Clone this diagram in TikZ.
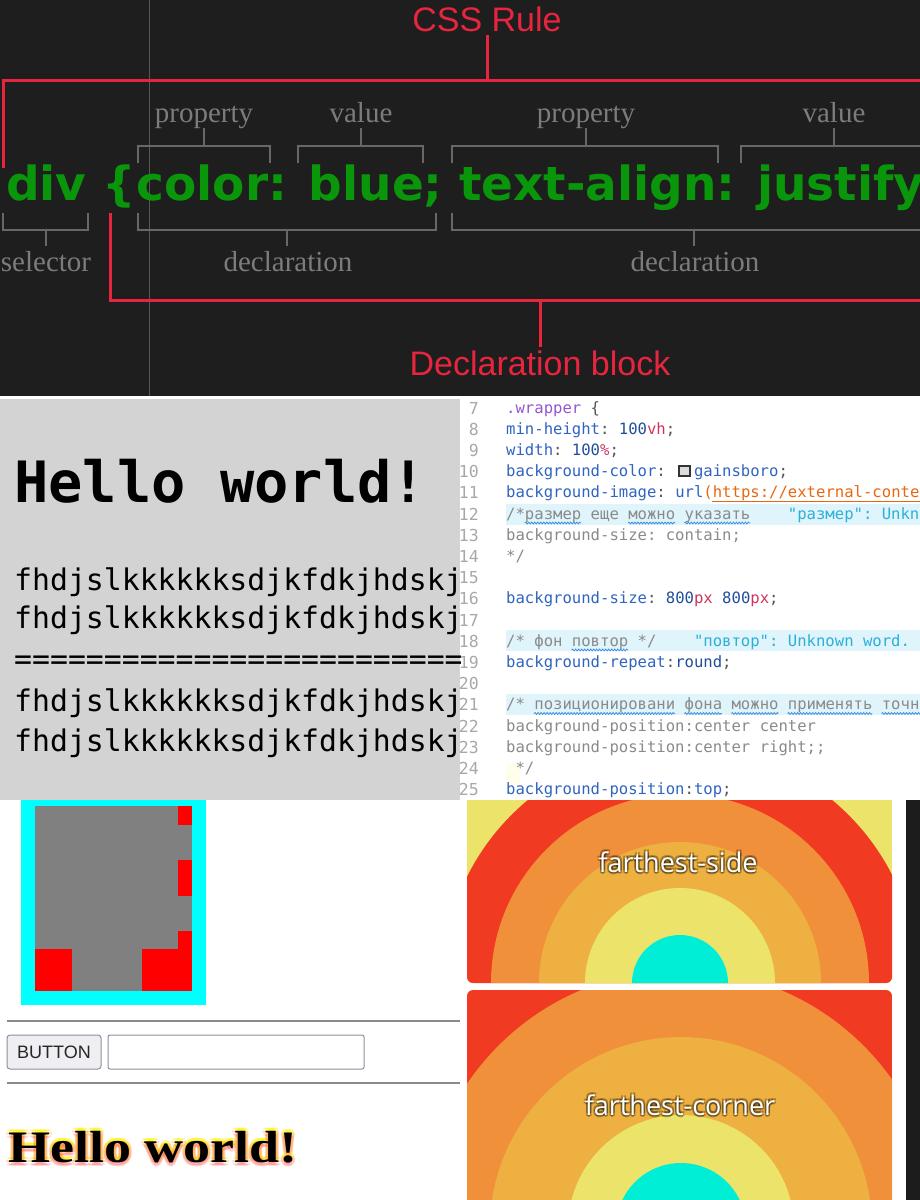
\documentclass[tikz,border=0pt]{standalone}
\usepackage{fontspec}
\setmainfont{Liberation Serif}
\setsansfont{Liberation Sans}
\setmonofont{DejaVu Sans Mono}
\newfontfamily\verdanafont{DejaVu Sans}
\newfontfamily\opensans{Open Sans}
\usepackage{xcolor}
\usepackage{graphicx}
\usepackage{tikz}
\usetikzlibrary{decorations.pathmorphing, positioning}
\definecolor{panelbg}{HTML}{1E1E1E}
\definecolor{rulered}{HTML}{E8253F}
\definecolor{codegreen}{HTML}{0A960A}
\definecolor{labelgray}{HTML}{7C7C7C}
\definecolor{bracketgray}{HTML}{686868}
\definecolor{pagegray}{HTML}{D3D3D3}
\definecolor{propblue}{HTML}{2F64C0}
\definecolor{numblue}{HTML}{1F4E9A}
\definecolor{unitred}{HTML}{D2335C}
\definecolor{selpurple}{HTML}{9456D0}
\definecolor{urlorange}{HTML}{E8670F}
\definecolor{commentgray}{HTML}{8A8A8A}
\definecolor{punctgray}{HTML}{555555}
\definecolor{hintcyan}{HTML}{2CB0DA}
\definecolor{hintbg}{HTML}{DFF4FB}
\definecolor{linenum}{HTML}{A8A8A8}
\definecolor{spellblue}{HTML}{3C8FE0}
\definecolor{boxcyan}{HTML}{00FFFF}
\definecolor{boxgray}{HTML}{808080}
\definecolor{btnface}{HTML}{EFEFF3}
\definecolor{btnedge}{HTML}{8F8F9D}
\definecolor{hrgray}{HTML}{8A8A8A}
\definecolor{ringcyan}{HTML}{00EED6}
\definecolor{ringyellow}{HTML}{ECE46A}
\definecolor{ringlight}{HTML}{EEB040}
\definecolor{ringorange}{HTML}{F0903A}
\definecolor{ringred}{HTML}{F03A22}
\definecolor{stripdark}{HTML}{1C1C1C}
\definecolor{gainsboro}{HTML}{DCDCDC}
\newcommand{\cprop}[1]{\textcolor{propblue}{#1}}
\newcommand{\cnum}[1]{\textcolor{numblue}{#1}}
\newcommand{\cunit}[1]{\textcolor{unitred}{#1}}
\newcommand{\cpun}[1]{\textcolor{punctgray}{#1}}

\begin{document}
\begin{tikzpicture}[x=1pt, y=-1pt,
    redline/.style={rulered, line width=3pt},
    grayline/.style={bracketgray, line width=2pt},
    partlabel/.style={anchor=base, inner sep=0, text=labelgray, font=\fontsize{29}{32}\selectfont},
    redlabel/.style={text=rulered, font=\sffamily\fontsize{34}{38}\selectfont},
    codetext/.style={anchor=base west, inner sep=0, font=\ttfamily\fontsize{15.6}{18}\selectfont},
    linenumber/.style={anchor=base east, inner sep=0, text=linenum, font=\ttfamily\fontsize{16.5}{18}\selectfont},
    spellwave/.style={spellblue, line width=0.8pt, decorate, decoration={snake, amplitude=0.9pt, segment length=3pt}},
    monoline/.style={anchor=base west, inner sep=0, font=\ttfamily\fontsize{29.8}{32}\selectfont},
    ringlabel/.style={inner sep=0, font=\opensans\fontsize{27}{30}\selectfont},
    hellostyle/.style={anchor=base west, inner sep=0, font=\bfseries\fontsize{45}{50}\selectfont}]
  \useasboundingbox (0,0) rectangle (920,1200);

  % CSS rule anatomy
  \fill[panelbg] (0,0) rectangle (920,396);
  \begin{scope}
    \clip (0,0) rectangle (920,396);
    \draw[panelbg!75!white, line width=1pt] (149,0) -- (149,396);
    \node[redlabel] (cssrule) at (487,19) {CSS Rule};
    \draw[redline] (3,168) -- (3,80) -- (930,80);
    \draw[redline] (487,80) -- (cssrule.south);
    \node[anchor=base west, inner sep=0, text=codegreen, font=\verdanafont\bfseries\fontsize{47}{50}\selectfont]
      (rule) at (6,200) {div \{color: blue; text-align: justify};
    \node[partlabel] (prop1) at (204,122) {property};
    \node[partlabel] (val1) at (361,122) {value};
    \node[partlabel] (prop2) at (586,122) {property};
    \node[partlabel] (val2) at (834,122) {value};
    \foreach \l/\r/\m in {138/270/204, 298/423/361, 452/718/586, 741/940/834}
      \draw[grayline] (\l,163) -- (\l,146) -- (\r,146) -- (\r,163) (\m,146) -- (\m,128);
    \foreach \l/\r/\m in {3/88/46, 138/436/287, 452/940/694}
      \draw[grayline] (\l,213) -- (\l,230) -- (\r,230) -- (\r,213) (\m,230) -- (\m,246);
    \node[partlabel] (sel) at (46,271) {selector};
    \node[partlabel] (decl1) at (288,271) {declaration};
    \node[partlabel] (decl2) at (695,271) {declaration};
    \node[redlabel] (declblock) at (540,363) {Declaration block};
    \draw[redline] (110,213) -- (110,300) -- (930,300);
    \draw[redline] (540,300) -- (declblock.north);
  \end{scope}

  % rendered page with gainsboro background
  \fill[pagegray] (0,399) rectangle (460,800);
  \begin{scope}
    \clip (0,399) rectangle (460,800);
    \node[anchor=base west, inner sep=0, font=\ttfamily\bfseries\fontsize{57}{60}\selectfont] (title) at (14,502) {Hello world!};
    \node[monoline] (l1) at (14,590) {fhdjslkkkkkksdjkfdkjhdskj};
    \node[monoline] (l2) at (14,628) {fhdjslkkkkkksdjkfdkjhdskj};
    \node[monoline] (l3) at (14,669) {=========================};
    \node[monoline] (l4) at (14,711) {fhdjslkkkkkksdjkfdkjhdskj};
    \node[monoline] (l5) at (14,751) {fhdjslkkkkkksdjkfdkjhdskj};
  \end{scope}

  % editor
  \begin{scope}
    \clip (460,399) rectangle (920,800);
    \fill[hintbg] (506,504) rectangle (920,525);
    \fill[hintbg] (506,630) rectangle (920,651);
    \fill[hintbg] (506,694) rectangle (920,715);
    \fill[yellow!8] (506,763) rectangle (520,784);
    \foreach \n in {7,...,25}
      \node[linenumber] at (479,{414+21.2*(\n-7)}) {\n};
    \node[codetext] (c7) at (506,413) {\textcolor{selpurple}{.wrapper} \cpun{\{}};
    \node[codetext] (c8) at (506,434.2) {\cprop{min-height}\cpun{:} \cnum{100}\cunit{vh}\cpun{;}};
    \node[codetext] (c9) at (506,455.4) {\cprop{width}\cpun{:} \cnum{100}\cunit{\%}\cpun{;}};
    \node[codetext] (c10) at (506,476.6) {\cprop{background-color}\cpun{:}};
    \draw[fill=gainsboro, draw=black!80, line width=1.2pt] (679,466) rectangle (690,476);
    \node[codetext] (c10b) at (693.8,476.6) {\cprop{gainsboro}\cpun{;}};
    \node[codetext] (c11) at (506,497.8) {\cprop{background-image}\cpun{:} \cprop{url}\textcolor{urlorange}{(https://external-conten}};
    \draw[urlorange, line width=1pt] (712,501) -- (920,501);
    \node[codetext, text=commentgray] (c12) at (506,519) {/*размер еще можно указать};
    \node[codetext, text=hintcyan] (h12) at (787.7,519) {"размер": Unkn};
    \node[codetext, text=commentgray] (c13) at (506,540.2) {background-size: contain;};
    \node[codetext, text=commentgray] (c14) at (506,561.4) {*/};
    \node[codetext] (c16) at (506,603.8) {\cprop{background-size}\cpun{:} \cnum{800}\cunit{px} \cnum{800}\cunit{px}\cpun{;}};
    \node[codetext, text=commentgray] (c18) at (506,646.2) {/* фон повтор */};
    \node[codetext, text=hintcyan] (h18) at (693.8,646.2) {"повтор": Unknown word.};
    \node[codetext] (c19) at (506,667.4) {\cprop{background-repeat}\cpun{:}\cnum{round}\cpun{;}};
    \node[codetext, text=commentgray] (c21) at (506,709.8) {/* позиционировани фона можно применять точн};
    \node[codetext, text=commentgray] (c22) at (506,731) {background-position:center center};
    \node[codetext, text=commentgray] (c23) at (506,752.2) {background-position:center right;;};
    \node[codetext, text=commentgray] (c24) at (515.4,773.4) {*/};
    \node[codetext] (c25) at (506,794.6) {\cprop{background-position}\cpun{:}\cprop{top}\cpun{;}};
    % spelling marks
    \foreach \a/\b in {2/8, 13/18, 19/26}
      \draw[spellwave] ({506+9.39*\a},523) -- ({506+9.39*\b},523);
    \draw[spellwave] ({506+9.39*7},650) -- ({506+9.39*13},650);
    \foreach \a/\b in {3/18, 19/23, 24/29, 30/39, 40/45}
      \draw[spellwave] ({506+9.39*\a},713.5) -- ({506+9.39*\b},713.5);
  \end{scope}

  % box with background images
  \fill[boxcyan] (21,800) rectangle (206,1005);
  \fill[boxgray] (35,806) rectangle (192,991);
  \fill[red] (178,806) rectangle (192,825);
  \fill[red] (178,860) rectangle (192,896);
  \fill[red] (178,931) rectangle (192,991);
  \fill[red] (142,949) rectangle (192,991);
  \fill[red] (35,949) rectangle (72,991);
  \draw[hrgray, line width=2.5pt] (7,1021) -- (460,1021);
  \draw[hrgray, line width=2.5pt] (7,1083) -- (460,1083);
  \node[draw=btnedge, fill=btnface, rounded corners=3pt, line width=1pt, minimum width=94pt, minimum height=34pt,
    text=black!85, font=\sffamily\fontsize{18}{20}\selectfont] (button) at (54,1052) {BUTTON};
  \node[draw=btnedge, fill=white, rounded corners=2pt, line width=1pt, minimum width=256pt, minimum height=34pt,
    right=6pt of button] (field) {};
  \foreach \dx/\dy/\c/\o in {-2/-3/yellow/.4, 0/-3/yellow/.4, 2/-3/yellow/.4, -3/0/orange/.3, 3/0/orange/.3,
      -2/3/red!70/.22, 0/4/red!70/.22, 2/3/red!70/.22}
    \node[hellostyle, text=\c, opacity=\o] at ({8+\dx},{1162+\dy}) {\scalebox{1.2}[1]{Hello world!}};
  \node[hellostyle] (glowtitle) at (8,1162) {\scalebox{1.2}[1]{Hello world!}};

  % radial gradients
  \begin{scope}
    \clip[rounded corners=6pt] (467,700) rectangle (892,983);
    \clip (460,800) rectangle (900,990);
    \fill[ringyellow] (467,800) rectangle (892,983);
    \fill[ringred] (680,983) circle[radius=238pt];
    \fill[ringorange] (680,983) circle[radius=189pt];
    \fill[ringlight] (680,983) circle[radius=141pt];
    \fill[ringyellow] (680,983) circle[radius=95pt];
    \fill[ringcyan] (680,983) circle[radius=48pt];
  \end{scope}
  \begin{scope}
    \clip[rounded corners=6pt] (467,990) rectangle (892,1260);
    \fill[ringred] (467,990) rectangle (892,1260);
    \fill[ringorange] (681,1228) circle[radius=258pt];
    \fill[ringlight] (681,1228) circle[radius=191pt];
    \fill[ringyellow] (681,1228) circle[radius=113pt];
    \fill[ringcyan] (681,1228) circle[radius=65pt];
  \end{scope}
  \foreach \dx/\dy in {-1.5/-1.5, 1.5/-1.5, -1.5/1.5, 1.5/1.5, 0/2}
    \node[ringlabel, text=black, opacity=.3] at ({678+\dx},{862+\dy}) {farthest-side};
  \node[ringlabel, text=white] (side) at (678,862) {farthest-side};
  \foreach \dx/\dy in {-1.5/-1.5, 1.5/-1.5, -1.5/1.5, 1.5/1.5, 0/2}
    \node[ringlabel, text=black, opacity=.3] at ({680+\dx},{1105+\dy}) {farthest-corner};
  \node[ringlabel, text=white] (corner) at (680,1105) {farthest-corner};
  \fill[stripdark] (906,800) rectangle (920,1200);
\end{tikzpicture}
\end{document}
